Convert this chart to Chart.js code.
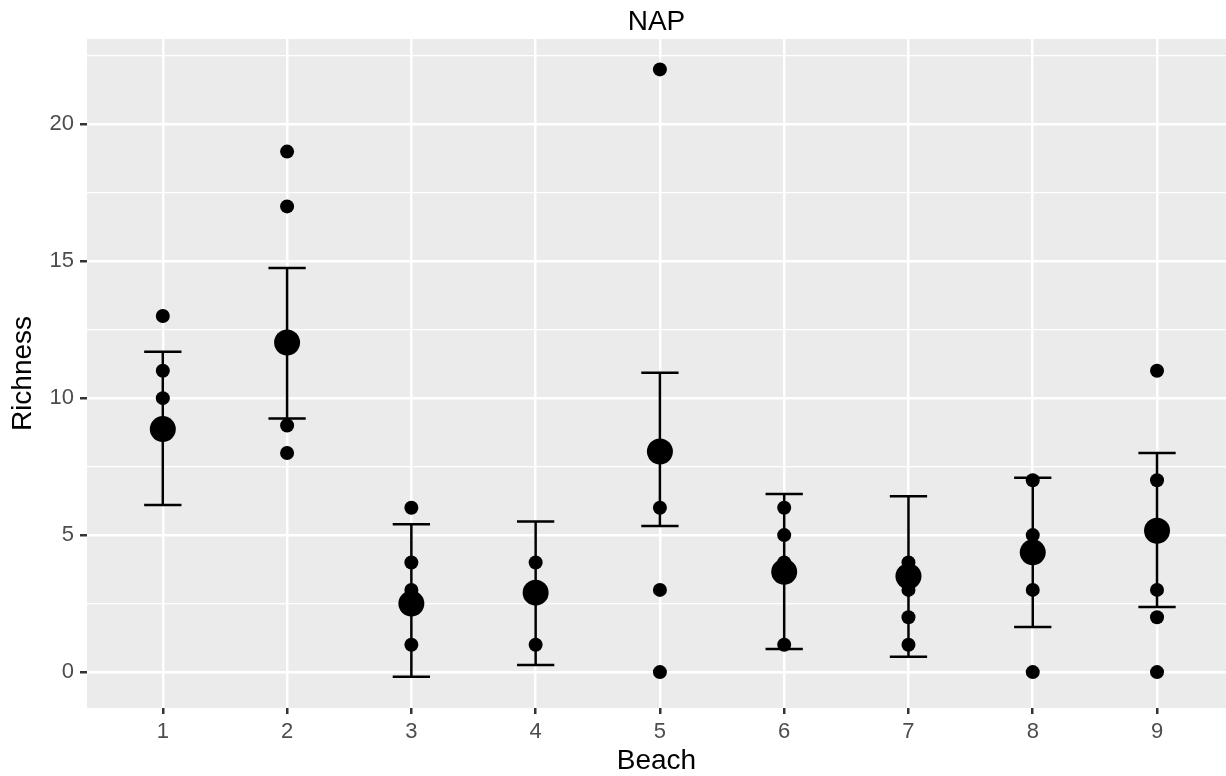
<!DOCTYPE html>
<html>
<head>
<meta charset="utf-8">
<title>NAP</title>
<script src="https://cdn.jsdelivr.net/npm/chart.js@4.4.0/dist/chart.umd.min.js"></script>
<style>
  body { margin: 0; background: #fff; }
  #wrap { width: 1226px; height: 776px; }
</style>
</head>
<body>
<div id="wrap"><canvas id="nap" width="1226" height="776"></canvas></div>
<script>
const beaches = [1, 2, 3, 4, 5, 6, 7, 8, 9];

// observed richness, one entry per sample (beach + value)
const sampleBeach = [1, 1, 1, 2, 2, 2, 2, 3, 3, 3, 3, 4, 4, 4, 5, 5, 5, 5, 6, 6, 6, 6, 7, 7, 7, 7, 8, 8, 8, 8, 9, 9, 9, 9, 9];
const sampleRichness = [13, 11, 10, 19, 17, 9, 8, 6, 4, 3, 1, 4, 3, 1, 22, 6, 3, 0, 6, 5, 4, 1, 4, 3, 2, 1, 7, 5, 3, 0, 11, 7, 3, 2, 0];

// per-beach estimate and interval
const meanRichness = [8.87, 12.03, 2.5, 2.9, 8.05, 3.66, 3.5, 4.37, 5.16];
const lowerRichness = [6.1, 9.26, -0.17, 0.26, 5.33, 0.84, 0.56, 1.65, 2.38];
const upperRichness = [11.69, 14.75, 5.4, 5.5, 10.93, 6.5, 6.42, 7.09, 8.0];

const yMajor = [0, 5, 10, 15, 20];
const yMinor = [2.5, 7.5, 12.5, 17.5, 22.5];

const FONT = "'Liberation Sans', Arial, Helvetica, sans-serif";

// grey panel behind the grid
const panelBg = {
  id: "panelBg",
  beforeDraw(chart) {
    const { ctx, chartArea: a } = chart;
    ctx.save();
    ctx.fillStyle = "#EBEBEB";
    ctx.fillRect(a.left, a.top, a.right - a.left, a.bottom - a.top);
    ctx.restore();
  },
};

// error bars with caps
const errorBars = {
  id: "errorBars",
  afterDatasetsDraw(chart) {
    const { ctx, chartArea: a, scales: { x, y } } = chart;
    ctx.save();
    ctx.beginPath();
    ctx.rect(a.left, a.top, a.right - a.left, a.bottom - a.top);
    ctx.clip();
    ctx.strokeStyle = "#000";
    ctx.lineWidth = 2.5;
    beaches.forEach((b, i) => {
      const px = x.getPixelForValue(b);
      const x0 = x.getPixelForValue(b - 0.15);
      const x1 = x.getPixelForValue(b + 0.15);
      const lo = y.getPixelForValue(lowerRichness[i]);
      const hi = y.getPixelForValue(upperRichness[i]);
      ctx.beginPath();
      ctx.moveTo(px, lo);
      ctx.lineTo(px, hi);
      ctx.moveTo(x0, lo);
      ctx.lineTo(x1, lo);
      ctx.moveTo(x0, hi);
      ctx.lineTo(x1, hi);
      ctx.stroke();
    });
    ctx.restore();
  },
};

const samples = sampleBeach.map((b, i) => ({ x: b, y: sampleRichness[i] }));
const means = beaches.map((b, i) => ({ x: b, y: meanRichness[i] }));

new Chart(document.getElementById("nap"), {
  type: "scatter",
  data: {
    datasets: [
      {
        label: "samples",
        data: samples,
        pointRadius: 7,
        pointBackgroundColor: "#000",
        pointBorderWidth: 0,
      },
      {
        label: "mean",
        data: means,
        pointRadius: 13,
        pointBackgroundColor: "#000",
        pointBorderWidth: 0,
      },
    ],
  },
  options: {
    responsive: false,
    devicePixelRatio: 1,
    animation: false,
    layout: { padding: 0, autoPadding: false },
    plugins: {
      legend: { display: false },
      tooltip: { enabled: false },
      title: {
        display: true,
        text: "NAP",
        color: "#000",
        fullSize: false,
        font: { family: FONT, size: 28, weight: "normal", lineHeight: 1 },
        padding: { top: 8, bottom: 3 },
      },
    },
    scales: {
      x: {
        type: "linear",
        min: 0.39,
        max: 9.555,
        afterBuildTicks: (s) => {
          s.ticks = beaches.map((v) => ({ value: v }));
        },
        afterFit: (s) => {
          s.height = 68;
          s.paddingLeft = 0;
          s.paddingRight = 0;
        },
        border: { display: false },
        grid: {
          color: "#fff",
          lineWidth: 2.5,
          tickLength: 6,
          tickColor: "#333",
          tickWidth: 2.5,
        },
        ticks: {
          color: "#4D4D4D",
          font: { family: FONT, size: 22 },
          padding: 5,
          maxRotation: 0,
          autoSkip: false,
        },
        title: {
          display: true,
          text: "Beach",
          color: "#000",
          font: { family: FONT, size: 28, lineHeight: 1 },
          padding: { top: 0, bottom: 1 },
        },
      },
      y: {
        min: -1.311,
        max: 23.11,
        afterBuildTicks: (s) => {
          s.ticks = yMajor.concat(yMinor).sort((a, b) => a - b).map((v) => ({ value: v }));
        },
        afterFit: (s) => {
          s.width = 87;
          s.paddingTop = 0;
          s.paddingBottom = 0;
        },
        border: { display: false },
        grid: {
          color: "#fff",
          lineWidth: (c) => (yMajor.includes(c.tick.value) ? 2.5 : 1.25),
          tickLength: 7,
          tickColor: (c) => (yMajor.includes(c.tick.value) ? "#333" : "rgba(0,0,0,0)"),
          tickWidth: 2.5,
        },
        ticks: {
          color: "#4D4D4D",
          font: { family: FONT, size: 22 },
          padding: 6,
          autoSkip: false,
          callback: (v) => (yMajor.includes(v) ? String(v) : ""),
        },
        title: {
          display: true,
          text: "Richness",
          color: "#000",
          font: { family: FONT, size: 28, lineHeight: 1 },
          padding: { top: 9, bottom: 0 },
        },
      },
    },
  },
  plugins: [panelBg, errorBars],
});
</script>
</body>
</html>
